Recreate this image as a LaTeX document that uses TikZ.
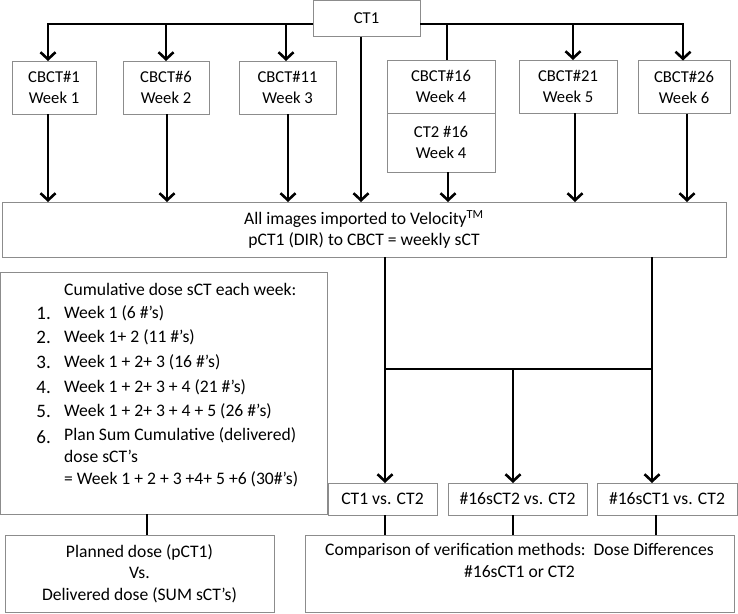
\documentclass[tikz,border=0pt]{standalone}
\usepackage{fontspec}
\setmainfont{Carlito}
\usetikzlibrary{positioning,arrows.meta}
\definecolor{Frame}{HTML}{8C8C8C}

\begin{document}
\begin{tikzpicture}[x=1pt, y=-1pt, font=\fontsize{17.6pt}{21pt}\selectfont,
  box/.style={draw=Frame, line width=0.8pt, fill=white, outer sep=0pt, inner sep=0pt, align=center},
  scan/.style={box, font=\fontsize{16.6pt}{21pt}\selectfont},
  link/.style={line width=2.6pt},
  arr/.style={link, -{Straight Barb[length=7pt,width=15pt]}},
  plain/.style={inner sep=0pt}]
\useasboundingbox (0,0) rectangle (738,613);

% top row
\node[scan, minimum width=107pt, minimum height=36pt] (ct1) at (366.5,18.5) {CT1};
\node[scan, minimum width=84pt, minimum height=53pt] (cbct1) at (54,87.5) {CBCT\#1\\Week 1};
\node[scan, minimum width=86pt, minimum height=53pt] (cbct6) at (166,87.5) {CBCT\#6\\Week 2};
\node[scan, minimum width=97pt, minimum height=53pt] (cbct11) at (287.5,87.5) {CBCT\#11\\Week 3};
\node[scan, minimum width=108pt, minimum height=53pt] (cbct16) at (441,86.5) {CBCT\#16\\Week 4};
\node[scan, minimum width=108pt, minimum height=59pt, below=0pt of cbct16] (ct2) {CT2 \#16\\Week 4};
\node[scan, minimum width=98pt, minimum height=53pt] (cbct21) at (568,86.5) {CBCT\#21\\Week 5};
\node[scan, minimum width=92pt, minimum height=53pt] (cbct26) at (684,87) {CBCT\#26\\Week 6};

% import box
\node[box, minimum width=724pt, minimum height=55pt] (velo) at (364,229.5) {All images imported to Velocity\textsuperscript{TM}\\pCT1 (DIR) to CBCT = weekly sCT};

% cumulative list
\node[box, minimum width=326.5pt, minimum height=242pt] (cumul) at (163.75,393) {};
\node[plain, anchor=west] (cumhead) at (64,289) {Cumulative dose sCT each week:};
\foreach \i/\y/\t in {1/313/Week 1 (6 \#'s), 2/337/Week 1+ 2 (11 \#'s), 3/362/Week 1 + 2+ 3 (16 \#'s),
    4/387/Week 1 + 2+ 3 + 4 (21 \#'s), 5/411/Week 1 + 2+ 3 + 4 + 5 (26 \#'s)} {
  \node[plain, anchor=east, font=\fontsize{19pt}{21pt}\selectfont] (num\i) at (51,\y) {\i.};
  \node[plain, anchor=west] (item\i) at (64,\y) {\t};
}
\node[plain, anchor=east, font=\fontsize{19pt}{21pt}\selectfont] (num6) at (51,437) {6.};
\node[plain, anchor=north west, align=left, font=\fontsize{17.6pt}{22pt}\selectfont] (item6) at (64,427) {Plan Sum Cumulative (delivered)\\dose sCT's\\= Week 1 + 2 + 3 +4+ 5 +6 (30\#'s)};

% comparison row
\node[box, minimum width=109pt, minimum height=32pt] (vs1) at (382.5,499) {CT1 vs. CT2};
\node[box, minimum width=139pt, minimum height=32pt] (vs2) at (517.5,499) {\#16sCT2 vs. CT2};
\node[box, minimum width=140pt, minimum height=32pt] (vs3) at (667,499) {\#16sCT1 vs. CT2};

% result boxes
\node[box, minimum width=269pt, minimum height=77pt, font=\fontsize{17.6pt}{21.5pt}\selectfont] (plan) at (139.5,573.5) {Planned dose (pCT1)\\Vs.\\Delivered dose (SUM sCT's)};
\node[box, minimum width=429pt, minimum height=77pt, font=\fontsize{17.6pt}{22pt}\selectfont] (comp) at (519.5,573.5) {\strut Comparison of verification methods:\ \ Dose Differences\\\#16sCT1 or CT2\\\strut};

% CT1 to the weekly scans
\draw[arr] (ct1.west |- 0,24) -| (cbct1.north -| 48,0);
\draw[arr] (ct1.east |- 0,24) -| (cbct26.north -| 683,0);
\foreach \n/\x in {cbct6/166, cbct11/286, cbct21/573}
  \draw[arr] (\x,24) -- (\n.north -| \x,0);
\draw[link] (447,24) -- (cbct16.north -| 447,0);

% scans into Velocity
\foreach \n/\x in {cbct1/48, cbct6/167, cbct11/288, ct2/448, cbct21/575, cbct26/687}
  \draw[arr] (\n.south -| \x,0) -- (velo.north -| \x,0);
\draw[arr] (ct1.south -| 361,0) -- (velo.north -| 361,0);

% Velocity to the comparisons
\coordinate (fork) at (652,369);
\draw[arr] (velo.south -| 385,0) -- (vs1.north -| 385,0);
\draw[link] (velo.south -| fork) -- (fork) -- (fork -| 385,0);
\draw[arr] (fork) -- (vs3.north -| fork);
\draw[arr] (fork -| 513,0) -- (vs2.north -| 513,0);

% into the result boxes
\foreach \n/\x in {vs1/385, vs2/513, vs3/656}
  \draw[link] (\n.south -| \x,0) -- (comp.north -| \x,0);
\draw[link] (cumul.south -| 147,0) -- (plan.north -| 147,0);
\end{tikzpicture}
\end{document}
